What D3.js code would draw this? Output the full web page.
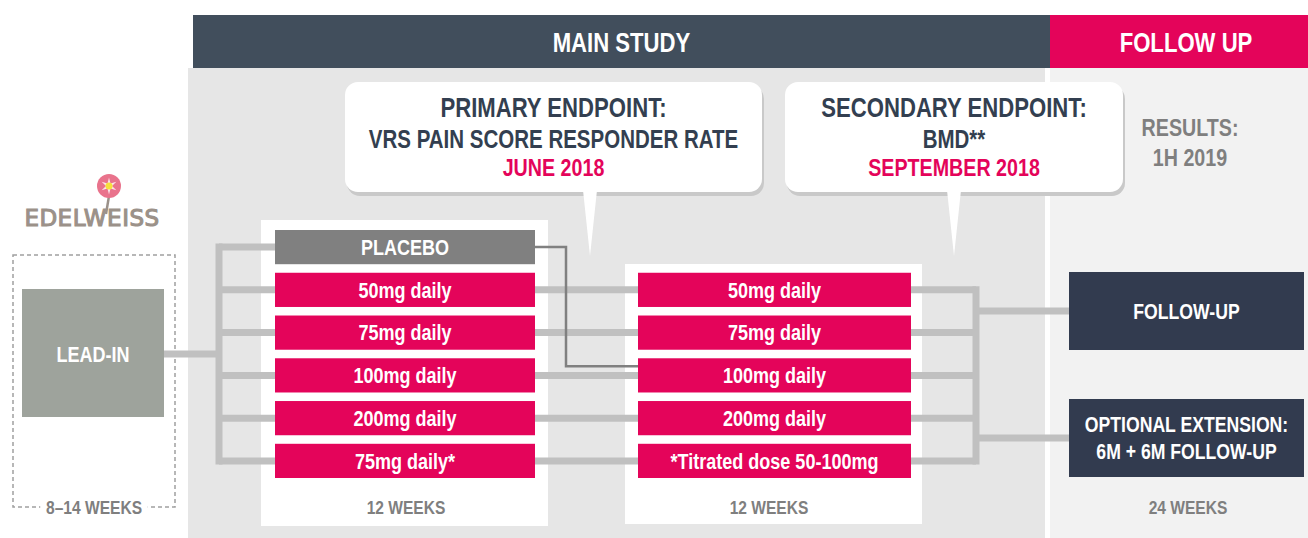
<!DOCTYPE html>
<html>
<head>
<meta charset="utf-8">
<script src="https://cdn.jsdelivr.net/npm/d3@7"></script>
<style>
  body { margin: 0; background: #fff; }
  svg { display: block; }
</style>
</head>
<body>
<svg id="chart" width="1308" height="538"></svg>
<script>
// ---- data ----
const phases = ['MAIN STUDY', 'FOLLOW UP'];
const endpointTitles = ['PRIMARY ENDPOINT:', 'SECONDARY ENDPOINT:'];
const endpointMeasures = ['VRS PAIN SCORE RESPONDER RATE', 'BMD**'];
const endpointDates = ['JUNE 2018', 'SEPTEMBER 2018'];
const resultsLines = ['RESULTS:', '1H 2019'];
const leadIn = 'LEAD-IN';
const firstArms = ['PLACEBO', '50mg daily', '75mg daily', '100mg daily', '200mg daily', '75mg daily*'];
const secondArms = [null, '50mg daily', '75mg daily', '100mg daily', '200mg daily', '*Titrated dose 50-100mg'];
const crossovers = [{ from: 0, to: 3 }]; // placebo moves to 100mg in period 2
const outcomes = [['FOLLOW-UP'], ['OPTIONAL EXTENSION:', '6M + 6M FOLLOW-UP']];
const durations = ['8–14 WEEKS', '12 WEEKS', '12 WEEKS', '24 WEEKS'];

// ---- styles ----
const FONT = "'Liberation Sans', Arial, sans-serif";
const NARROW = 0.82; // no narrow face installed, squeeze the regular one
const PINK = '#e4045a';
const SLATE = '#414e5c';
const NAVY = '#323b4f';
const LINK = '#c0c0c0';
const GREY_TXT = '#7f7f7f';

const svg = d3.select('svg#chart');

// column layout
const col = {
  leadX: 22, leadW: 142,
  busL: 219,
  arm1X: 275, arm1W: 260,
  arm2X: 638, arm2W: 273,
  busR: 976,
  outX: 1069, outW: 235
};

// rows through a band scale
const y = d3.scaleBand()
  .domain(d3.range(firstArms.length))
  .range([230, 478])
  .paddingInner(0.2);
const mid = (i) => y(i) + y.bandwidth() / 2;

const outY = d3.scalePoint().domain(d3.range(outcomes.length)).range([311, 438]);
const durX = d3.scaleOrdinal().domain(d3.range(durations.length)).range([94, 406, 769, 1188]);

const text = (g, str, x, yy, size, fill) => {
  const t = g.append('g').attr('transform', `translate(${x},${yy}) scale(${NARROW},1)`);
  t.append('text')
    .attr('text-anchor', 'middle')
    .attr('dominant-baseline', 'central')
    .attr('font-family', FONT)
    .attr('font-weight', 'bold')
    .attr('font-size', size)
    .attr('fill', fill)
    .text(str);
  return t;
};

// ---- backgrounds ----
svg.append('rect').attr('x', 188).attr('y', 68).attr('width', 857).attr('height', 470).attr('fill', '#e6e6e6');
svg.append('rect').attr('x', 1050).attr('y', 68).attr('width', 258).attr('height', 470).attr('fill', '#f2f2f2');

// phase headers
const headers = [{ x: 193, w: 857, fill: SLATE }, { x: 1050, w: 258, fill: PINK }];
headers.forEach((h, i) => {
  svg.append('rect').attr('x', h.x).attr('y', 15).attr('width', h.w).attr('height', 53).attr('fill', h.fill);
  text(svg, phases[i], h.x + h.w / 2 + (i === 0 ? 0 : 7), 43, 27, '#fff');
});

// ---- endpoint callouts ----
const callouts = [{ x: 345, w: 417, tip: 590 }, { x: 785, w: 338, tip: 954 }];
callouts.forEach((c, i) => {
  const g = svg.append('g');
  g.append('rect').attr('x', c.x + 2).attr('y', 86).attr('width', c.w).attr('height', 110)
    .attr('rx', 13).attr('fill', '#c9c9c9');
  g.append('rect').attr('x', c.x).attr('y', 82).attr('width', c.w).attr('height', 110)
    .attr('rx', 13).attr('fill', '#fff');
  g.append('path').attr('d', `M${c.tip - 7},190 L${c.tip + 7},190 L${c.tip},256 Z`).attr('fill', '#fff');
  const cx = c.x + c.w / 2;
  text(g, endpointTitles[i], cx, 108, 27, '#333f50');
  text(g, endpointMeasures[i], cx, 139, 25, '#333f50');
  text(g, endpointDates[i], cx, 168, 24, PINK);
});
resultsLines.forEach((s, i) => text(svg, s, 1190, 128 + i * 30, 24, GREY_TXT));

// ---- period panels ----
svg.append('rect').attr('x', 261).attr('y', 220).attr('width', 287).attr('height', 306).attr('fill', '#fff');
svg.append('rect').attr('x', 625).attr('y', 264).attr('width', 297).attr('height', 260).attr('fill', '#fff');

// ---- logo ----
const logo = svg.append('g');
logo.append('line').attr('x1', 109).attr('y1', 196).attr('x2', 106).attr('y2', 214)
  .attr('stroke', '#9b9189').attr('stroke-width', 2.5);
logo.append('circle').attr('cx', 109).attr('cy', 186).attr('r', 12).attr('fill', '#e9738c');
const star = d3.range(12).map((k) => {
  const a = (k * Math.PI) / 6 - Math.PI / 2;
  const r = k % 2 ? 3 : 8.5;
  return [109 + r * Math.cos(a), 186 + r * Math.sin(a)];
});
logo.append('path').attr('d', d3.line()(star) + 'Z').attr('fill', '#fbe3e8');
logo.append('circle').attr('cx', 109).attr('cy', 186).attr('r', 3.5).attr('fill', '#f6e13c');
logo.append('text').attr('x', 92).attr('y', 226).attr('text-anchor', 'middle')
  .attr('font-family', "'DejaVu Sans', sans-serif").attr('font-size', 23)
  .attr('letter-spacing', 0.5).attr('fill', '#9b9189')
  .attr('stroke', '#9b9189').attr('stroke-width', 1.1)
  .text('EDELWEISS');

// ---- lead-in ----
svg.append('rect').attr('x', 13).attr('y', 255).attr('width', 162).attr('height', 252)
  .attr('fill', 'none').attr('stroke', '#a0a0a0').attr('stroke-width', 1.5).attr('stroke-dasharray', '4,3');
svg.append('rect').attr('x', col.leadX).attr('y', 289).attr('width', col.leadW).attr('height', 128).attr('fill', '#9ea39c');
text(svg, leadIn, col.leadX + col.leadW / 2, 354, 22, '#fff');

// ---- connectors ----
const links = svg.append('g').attr('fill', 'none').attr('stroke', LINK).attr('stroke-width', 7);
const busMid = (mid(0) + mid(firstArms.length - 1)) / 2;
links.append('line').attr('x1', col.leadX + col.leadW).attr('x2', col.busL).attr('y1', busMid).attr('y2', busMid);
links.append('line').attr('x1', col.busL).attr('x2', col.busL)
  .attr('y1', mid(0) - 3.5).attr('y2', mid(firstArms.length - 1) + 3.5);
links.selectAll('line.l1').data(firstArms).enter().append('line')
  .attr('x1', col.busL).attr('x2', col.arm1X)
  .attr('y1', (d, i) => mid(i)).attr('y2', (d, i) => mid(i));

const cont = secondArms.map((d, i) => i).filter((i) => secondArms[i]);
links.selectAll('line.l2').data(cont).enter().append('line')
  .attr('x1', col.arm1X + col.arm1W).attr('x2', col.arm2X)
  .attr('y1', (i) => mid(i)).attr('y2', (i) => mid(i));
links.selectAll('line.l3').data(cont).enter().append('line')
  .attr('x1', col.arm2X + col.arm2W).attr('x2', col.busR)
  .attr('y1', (i) => mid(i)).attr('y2', (i) => mid(i));
links.append('line').attr('x1', col.busR).attr('x2', col.busR)
  .attr('y1', mid(cont[0]) - 3.5).attr('y2', mid(cont[cont.length - 1]) + 3.5);
links.selectAll('line.l4').data(outcomes).enter().append('line')
  .attr('x1', col.busR).attr('x2', col.outX)
  .attr('y1', (d, i) => outY(i)).attr('y2', (d, i) => outY(i));

crossovers.forEach((c) => {
  svg.append('path')
    .attr('d', `M${col.arm1X + col.arm1W},${mid(c.from)} H566 V${y(c.to) + 8} H${col.arm2X}`)
    .attr('fill', 'none').attr('stroke', '#808080').attr('stroke-width', 2.5);
});

// ---- arm boxes ----
firstArms.forEach((d, i) => {
  svg.append('rect').attr('x', col.arm1X).attr('y', y(i)).attr('width', col.arm1W).attr('height', y.bandwidth())
    .attr('fill', i === 0 ? '#808080' : PINK);
  text(svg, d, col.arm1X + col.arm1W / 2, mid(i), 22, '#fff');
});
cont.forEach((i) => {
  svg.append('rect').attr('x', col.arm2X).attr('y', y(i)).attr('width', col.arm2W).attr('height', y.bandwidth())
    .attr('fill', PINK);
  text(svg, secondArms[i], col.arm2X + col.arm2W / 2, mid(i), 22, '#fff');
});

// ---- outcome boxes ----
outcomes.forEach((lines, i) => {
  svg.append('rect').attr('x', col.outX).attr('y', outY(i) - 39).attr('width', col.outW).attr('height', 78)
    .attr('fill', NAVY);
  lines.forEach((s, k) => {
    text(svg, s, col.outX + col.outW / 2, outY(i) + (k - (lines.length - 1) / 2) * 27, 21.5, '#fff');
  });
});

// ---- durations ----
durations.forEach((d, i) => {
  const g = text(svg, d, durX(i), 507, 19, GREY_TXT);
  if (i === 0) {
    const t = g.select('text');
    const bb = t.node().getBBox();
    g.insert('rect', 'text').attr('x', bb.x - 7).attr('y', bb.y).attr('width', bb.width + 14)
      .attr('height', bb.height).attr('fill', '#fff');
  }
});
</script>
</body>
</html>
